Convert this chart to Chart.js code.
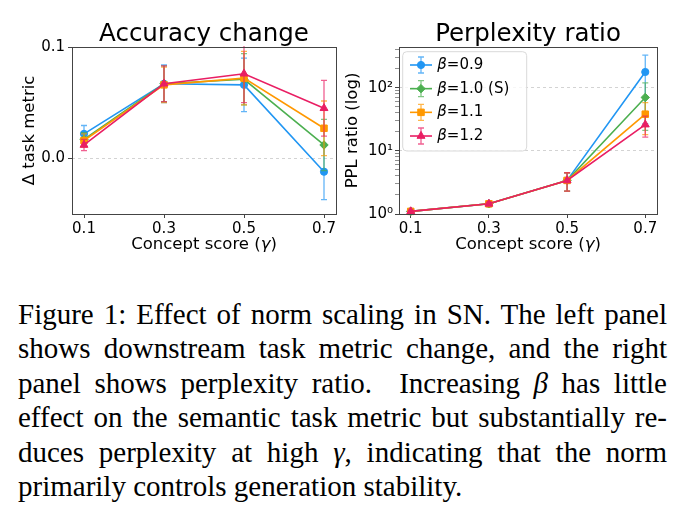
<!DOCTYPE html>
<html>
<head>
<meta charset="utf-8">
<script src="https://cdn.jsdelivr.net/npm/chart.js@4.4.0/dist/chart.umd.min.js"></script>
<style>
  body { margin: 0; background: #fff; width: 691px; height: 521px; overflow: hidden; position: relative; }
  canvas { position: absolute; top: 0; }
  #left { left: 0; }
  #right { left: 335px; }
  .cap { position: absolute; left: 18px; width: 649px; top: 297px;
         font-family: 'Liberation Serif', 'Times New Roman', serif; font-size: 29px; line-height: 34.4px; color: #000; }
  .cap div { text-align: justify; text-align-last: justify; white-space: nowrap; }
  .cap div.last { text-align: left; text-align-last: left; }
</style>
</head>
<body>
<canvas id="left" width="345" height="265"></canvas>
<canvas id="right" width="356" height="265"></canvas>
<div class="cap">
  <div>Figure 1: Effect of norm scaling in SN. The left panel</div>
  <div>shows downstream task metric change, and the right</div>
  <div>panel shows perplexity ratio.&nbsp; Increasing <i>β</i> has little</div>
  <div>effect on the semantic task metric but substantially re-</div>
  <div>duces perplexity at high <i>γ</i>, indicating that the norm</div>
  <div class="last">primarily controls generation stability.</div>
</div>
<script>
// concept score values on x
var gammas = [0.1, 0.3, 0.5, 0.7];

// accuracy change (delta task metric) and errors
var acc09 = [0.022, 0.067, 0.066, -0.012];
var acc10 = [0.017, 0.067, 0.071, 0.012];
var acc11 = [0.016, 0.066, 0.072, 0.027];
var acc12 = [0.012, 0.067, 0.076, 0.045];
var accErr09 = [0.0075, 0.017, 0.024, 0.025];
var accErr10 = [0.006, 0.016, 0.023, 0.023];
var accErr11 = [0.006, 0.016, 0.024, 0.0245];
var accErr12 = [0.005, 0.016, 0.026, 0.025];

// perplexity ratio and errors
var ppl09 = [1.1, 1.45, 3.4, 177];
var ppl10 = [1.1, 1.45, 3.4, 70];
var ppl11 = [1.1, 1.45, 3.4, 38];
var ppl12 = [1.1, 1.45, 3.4, 26];
var pplErr09 = [0.05, 0.1, 1.1, 150];
var pplErr10 = [0.05, 0.1, 1.1, 49];
var pplErr11 = [0.05, 0.1, 1.1, 20];
var pplErr12 = [0.05, 0.1, 1.1, 9.5];

var labels = ['=0.9', '=1.0 (S)', '=1.1', '=1.2'];
var xTicks = ['0.1', '0.3', '0.5', '0.7'];

var blue = '#2196F3', green = '#4CAF50', orange = '#FF9800', pink = '#E91E63';
var colors = [blue, green, orange, pink];
var errColors = ['rgba(33,150,243,0.7)', 'rgba(76,175,80,0.7)', 'rgba(255,152,0,0.7)', 'rgba(233,30,99,0.7)'];
var styles = ['circle', 'rectRot', 'rect', 'triangle'];
var radii = [3.6, 4.2, 4.6, 4.6];

Chart.defaults.font.family = "'DejaVu Sans', sans-serif";
Chart.defaults.color = '#000';

function makeSets(series, errs) {
    return series.map(function (vals, k) {
        return {
            label: labels[k],
            data: gammas.map(function (g, i) { return {x: g, y: vals[i]}; }),
            errors: errs[k],
            errColor: errColors[k],
            borderColor: colors[k],
            backgroundColor: colors[k],
            pointBackgroundColor: colors[k],
            pointBorderColor: colors[k],
            pointStyle: styles[k],
            pointRadius: radii[k],
            pointBorderWidth: 1,
            borderWidth: 1.6,
            order: 4 - k,
            clip: false
        };
    });
}

// error bars under each line, frame round the axes, x label, legend box
var extras = {
    id: 'extras',
    beforeDatasetDraw: function (chart, args) {
        var ds = chart.data.datasets[args.index];
        var xs = chart.scales.x, ys = chart.scales.y, ctx = chart.ctx, a = chart.chartArea;
        ctx.save();
        ctx.beginPath();
        ctx.rect(a.left, a.top - 1, a.right - a.left, a.bottom - a.top + 2);
        ctx.clip();
        ctx.strokeStyle = ds.errColor;
        ctx.lineWidth = 1.3;
        ds.data.forEach(function (p, i) {
            var e = ds.errors[i];
            var x = xs.getPixelForValue(p.x);
            var y1 = ys.getPixelForValue(p.y - e), y2 = ys.getPixelForValue(p.y + e);
            ctx.beginPath();
            ctx.moveTo(x, y1); ctx.lineTo(x, y2);
            ctx.moveTo(x - 3, y1); ctx.lineTo(x + 3, y1);
            ctx.moveTo(x - 3, y2); ctx.lineTo(x + 3, y2);
            ctx.stroke();
        });
        ctx.restore();
    },
    afterDatasetsDraw: function (chart, args, opts) {
        var ctx = chart.ctx, a = chart.chartArea;
        ctx.save();
        ctx.strokeStyle = '#444';
        ctx.lineWidth = 1;
        ctx.strokeRect(Math.round(a.left) + 0.5, Math.round(a.top) + 0.5,
                       Math.round(a.right - a.left), Math.round(a.bottom - a.top));
        // x axis label with italic gamma
        ctx.fillStyle = '#000';
        ctx.textBaseline = 'middle';
        var t1 = 'Concept score (', t2 = 'γ', t3 = ')';
        ctx.font = "16.5px 'DejaVu Sans'";
        var w1 = ctx.measureText(t1).width, w3 = ctx.measureText(t3).width;
        ctx.font = "italic 16.5px 'DejaVu Sans'";
        var w2 = ctx.measureText(t2).width;
        var sx = (a.left + a.right) / 2 - (w1 + w2 + w3) / 2, ly = a.bottom + 31;
        ctx.font = "16.5px 'DejaVu Sans'";
        ctx.fillText(t1, sx, ly);
        ctx.fillText(t3, sx + w1 + w2, ly);
        ctx.font = "italic 16.5px 'DejaVu Sans'";
        ctx.fillText(t2, sx + w1, ly);
        ctx.restore();
        if (!opts.legend) return;
        var L = a.left + 3.7, T = a.top + 4.7, W = 124, H = 99.3;
        ctx.save();
        ctx.beginPath();
        ctx.roundRect(L, T, W, H, 4);
        ctx.fillStyle = 'rgba(255,255,255,0.8)';
        ctx.fill();
        ctx.strokeStyle = '#d9d9d9';
        ctx.lineWidth = 1;
        ctx.stroke();
        chart.data.datasets.forEach(function (ds, k) {
            var y = T + 13.3 + k * 23.67;
            var mx = L + 18.3;
            ctx.strokeStyle = ds.borderColor;
            ctx.lineWidth = 1.6;
            ctx.beginPath(); ctx.moveTo(L + 7.3, y); ctx.lineTo(L + 29.3, y); ctx.stroke();
            ctx.strokeStyle = ds.errColor;
            ctx.lineWidth = 1.3;
            ctx.beginPath();
            ctx.moveTo(mx, y - 8); ctx.lineTo(mx, y + 8);
            ctx.moveTo(mx - 3, y - 8); ctx.lineTo(mx + 3, y - 8);
            ctx.moveTo(mx - 3, y + 8); ctx.lineTo(mx + 3, y + 8);
            ctx.stroke();
            ctx.fillStyle = ds.backgroundColor;
            ctx.strokeStyle = ds.borderColor;
            ctx.lineWidth = 1;
            Chart.helpers.drawPoint(ctx, {pointStyle: ds.pointStyle, radius: ds.pointRadius, rotation: 0, borderWidth: 1}, mx, y);
            ctx.fillStyle = '#000';
            ctx.textBaseline = 'middle';
            ctx.font = "italic 15px 'DejaVu Sans'";
            var tx = L + 34.6;
            ctx.fillText('β', tx, y);
            var bw = ctx.measureText('β').width;
            ctx.font = "15px 'DejaVu Sans'";
            ctx.fillText(ds.label, tx + bw, y);
        });
        ctx.restore();
    }
};

function xScale() {
    return {
        type: 'linear', min: 0.07, max: 0.73,
        afterBuildTicks: function (s) { s.ticks = gammas.map(function (g) { return {value: g}; }); },
        afterFit: function (s) { s.height = 51; },
        ticks: {
            font: {size: 15}, padding: 2, autoSkip: false, maxRotation: 0,
            callback: function (v, i) { return xTicks[i]; }
        },
        grid: {drawOnChartArea: false, drawTicks: true, tickLength: 4, tickColor: '#444', tickWidth: 1},
        border: {display: false}
    };
}

function baseOptions(title, yScale, legend) {
    return {
        responsive: false,
        animation: false,
        layout: {padding: {left: 0, right: legend ? 34 : 9, top: 0, bottom: 0}},
        plugins: {
            legend: {display: false},
            tooltip: {enabled: false},
            title: {display: true, text: title, fullSize: false, font: {size: 24.5, weight: 'normal', lineHeight: 1},
                    padding: {top: 22, bottom: 0.5}, color: '#000'},
            extras: {legend: legend}
        },
        scales: {x: xScale(), y: yScale}
    };
}

new Chart(document.getElementById('left'), {
    type: 'line',
    data: {datasets: makeSets([acc09, acc10, acc11, acc12], [accErr09, accErr10, accErr11, accErr12])},
    plugins: [extras],
    options: baseOptions('Accuracy change', {
        type: 'linear', min: -0.05, max: 0.1,
        afterBuildTicks: function (s) { s.ticks = [{value: 0}, {value: 0.1}]; },
        afterFit: function (s) { s.width = 72; },
        ticks: {font: {size: 15}, padding: 3, callback: function (v) { return v.toFixed(1); }},
        grid: {
            color: function (c) { return c.tick && c.tick.value === 0 ? '#c8c8c8' : 'rgba(0,0,0,0)'; },
            lineWidth: 0.8, drawTicks: true, tickLength: 4, tickColor: '#444', tickWidth: 1
        },
        border: {display: false, dash: [3, 3]},
        title: {display: true, text: 'Δ task metric', font: {size: 16.5}, padding: {top: 20, bottom: 0}}
    }, false)
});

var sup = ['⁰', '¹', '²', '³'];
var logTicks = [1, 2, 3, 4, 5, 6, 7, 8, 9, 10, 20, 30, 40, 50, 60, 70, 80, 90, 100, 200, 300, 400];
function isMajor(v) { var l = Math.log10(v); return Math.abs(l - Math.round(l)) < 1e-9; }

new Chart(document.getElementById('right'), {
    type: 'line',
    data: {datasets: makeSets([ppl09, ppl10, ppl11, ppl12], [pplErr09, pplErr10, pplErr11, pplErr12])},
    plugins: [extras],
    options: baseOptions('Perplexity ratio', {
        type: 'logarithmic', min: 1, max: 440,
        afterBuildTicks: function (s) { s.ticks = logTicks.map(function (v) { return {value: v}; }); },
        afterFit: function (s) { s.width = 64; },
        ticks: {
            font: {size: 15}, padding: 2, autoSkip: false,
            callback: function (v) { return isMajor(v) ? '10' + sup[Math.round(Math.log10(v))] : ''; }
        },
        grid: {
            color: function (c) { return c.tick && isMajor(c.tick.value) ? '#c8c8c8' : 'rgba(0,0,0,0)'; },
            lineWidth: 0.8, drawTicks: true, tickLength: 4, tickColor: '#444',
            tickWidth: function (c) { return c.tick && isMajor(c.tick.value) ? 1 : 0.6; }
        },
        border: {display: false, dash: [3, 3]},
        title: {display: true, text: 'PPL ratio (log)', font: {size: 16.5}, padding: {top: 8, bottom: 0}}
    }, true)
});
</script>
</body>
</html>
